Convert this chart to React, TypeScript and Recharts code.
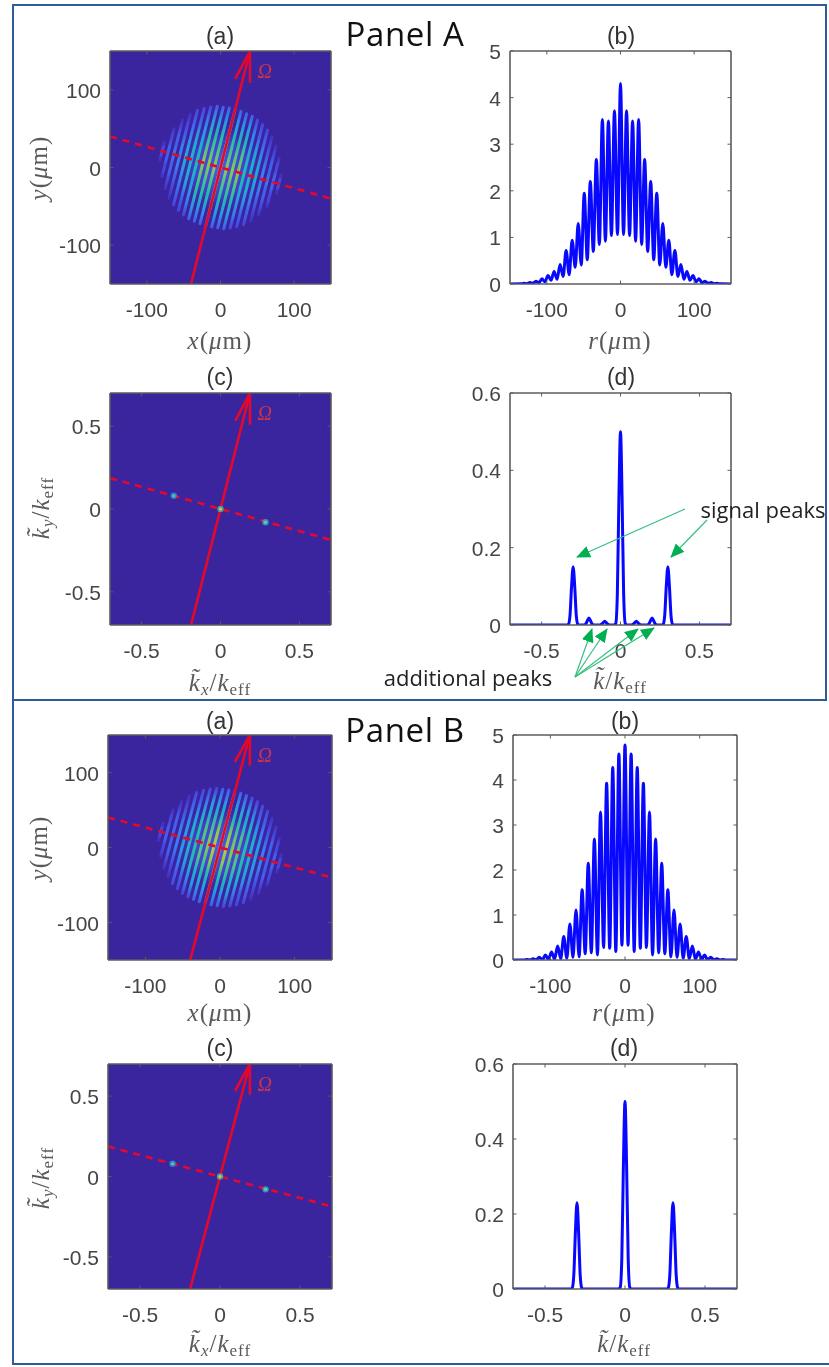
import * as React from "react";
import { ComposedChart, Line, ReferenceArea, ReferenceDot, Scatter, XAxis, YAxis } from "recharts";

// Real-space and k-space tick values
const rTicks = [-100, 0, 100];
const kTicks = [-0.5, 0, 0.5];
const intensityTicks = [0, 1, 2, 3, 4, 5];
const spectrumTicks = [0, 0.2, 0.4, 0.6];

// Cuts through the real-space pattern, fringe tops and the troughs between them
const rGrid = [
  -150, -135.3, -131.2, -127.1, -123, -118.9, -114.8, -110.7, -106.6, -102.5, -98.4, -94.3, -90.2, -86.1, -82, -77.9, -73.8,
  -69.7, -65.6, -61.5, -57.4, -53.3, -49.2, -45.1, -41, -36.9, -32.8, -28.7, -24.6, -20.5, -16.4, -12.3, -8.2, -4.1, 0, 4.1, 8.2,
  12.3, 16.4, 20.5, 24.6, 28.7, 32.8, 36.9, 41, 45.1, 49.2, 53.3, 57.4, 61.5, 65.6, 69.7, 73.8, 77.9, 82, 86.1, 90.2, 94.3, 98.4,
  102.5, 106.6, 110.7, 114.8, 118.9, 123, 127.1, 131.2, 135.3, 150,
];
const profileA = [
  0, 0.003, 0.015, 0.008, 0.03, 0.015, 0.06, 0.03, 0.11, 0.05, 0.18, 0.08, 0.27, 0.1, 0.42, 0.16, 0.72, 0.2, 0.94, 0.36, 1.3, 0.41,
  1.95, 0.52, 2.2, 0.7, 2.67, 0.85, 3.53, 0.92, 3.5, 1.04, 3.72, 1.06, 4.3, 1.06, 3.72, 1.04, 3.5, 0.92, 3.53, 0.85, 2.67, 0.7, 2.2,
  0.52, 1.95, 0.41, 1.3, 0.36, 0.94, 0.2, 0.72, 0.16, 0.42, 0.1, 0.27, 0.08, 0.18, 0.05, 0.11, 0.03, 0.06, 0.015, 0.03, 0.008, 0.015,
  0.003, 0,
];
const profileB = [
  0, 0.001, 0.01, 0.002, 0.03, 0.004, 0.06, 0.008, 0.11, 0.012, 0.18, 0.02, 0.31, 0.03, 0.52, 0.04, 0.8, 0.06, 1.11, 0.07, 1.56, 0.14,
  2.15, 0.16, 2.69, 0.11, 3.29, 0.28, 3.93, 0.26, 4.28, 0.19, 4.58, 0.33, 4.78, 0.33, 4.58, 0.19, 4.28, 0.26, 3.93, 0.28, 3.29, 0.11,
  2.69, 0.16, 2.15, 0.14, 1.56, 0.07, 1.11, 0.06, 0.8, 0.04, 0.52, 0.03, 0.31, 0.02, 0.18, 0.012, 0.11, 0.008, 0.06, 0.004, 0.03, 0.002,
  0.01, 0.001, 0,
];

// Spectra
const kGridA = [
  -0.7, -0.35, -0.335, -0.33, -0.32, -0.31, -0.3, -0.29, -0.28, -0.27, -0.265, -0.23, -0.22, -0.21, -0.2, -0.19, -0.18, -0.17, -0.13,
  -0.12, -0.11, -0.1, -0.09, -0.08, -0.07, -0.04, -0.03, -0.02, -0.01, 0, 0.01, 0.02, 0.03, 0.04, 0.07, 0.08, 0.09, 0.1, 0.11, 0.12,
  0.13, 0.17, 0.18, 0.19, 0.2, 0.21, 0.22, 0.23, 0.265, 0.27, 0.28, 0.29, 0.3, 0.31, 0.32, 0.33, 0.335, 0.35, 0.7,
];
const spectrumA = [
  0, 0, 0, 0.0012, 0.024, 0.1, 0.15, 0.1, 0.024, 0.0012, 0, 0, 0.003, 0.011, 0.018, 0.011, 0.003, 0, 0, 0.002, 0.006, 0.01, 0.006, 0.002,
  0, 0, 0.004, 0.08, 0.33, 0.5, 0.33, 0.08, 0.004, 0, 0, 0.002, 0.006, 0.01, 0.006, 0.002, 0, 0, 0.003, 0.011, 0.018, 0.011, 0.003, 0, 0,
  0.0012, 0.024, 0.1, 0.15, 0.1, 0.024, 0.0012, 0, 0, 0,
];
const kGridB = [
  -0.7, -0.35, -0.335, -0.33, -0.32, -0.31, -0.3, -0.29, -0.28, -0.27, -0.265, -0.04, -0.03, -0.02, -0.01, 0, 0.01, 0.02, 0.03, 0.04,
  0.265, 0.27, 0.28, 0.29, 0.3, 0.31, 0.32, 0.33, 0.335, 0.35, 0.7,
];
const spectrumB = [
  0, 0, 0, 0.002, 0.037, 0.152, 0.23, 0.152, 0.037, 0.002, 0, 0, 0.004, 0.08, 0.33, 0.5, 0.33, 0.08, 0.004, 0, 0, 0.002, 0.037, 0.152, 0.23,
  0.152, 0.037, 0.002, 0, 0, 0,
];

// Fringes of the colour maps: distance from the centre, half length, top level (0..1)
const fringeOffsets = [-82, -73.8, -65.6, -57.4, -49.2, -41, -32.8, -24.6, -16.4, -8.2, 0, 8.2, 16.4, 24.6, 32.8, 41, 49.2, 57.4, 65.6, 73.8, 82];
const fringeHalf = [12, 32, 46, 56, 63, 68, 72, 75, 76, 77, 77, 77, 76, 75, 72, 68, 63, 56, 46, 32, 12];
const fringeLevelA = [0.22, 0.3, 0.36, 0.44, 0.56, 0.62, 0.68, 0.86, 0.86, 0.9, 1, 0.9, 0.86, 0.86, 0.68, 0.62, 0.56, 0.44, 0.36, 0.3, 0.22];
const fringeLevelB = [0.22, 0.28, 0.34, 0.42, 0.52, 0.62, 0.72, 0.82, 0.9, 0.96, 1, 0.96, 0.9, 0.82, 0.72, 0.62, 0.52, 0.42, 0.34, 0.28, 0.22];
const fringeFalloff = [0.3, 0.55, 0.78, 0.94, 1, 0.94, 0.78, 0.55, 0.3];

const colourLevels = ["#3b259e", "#4230bf", "#4746de", "#4360ee", "#3a7cf0", "#2b98e4", "#20aed0", "#22bcb0", "#50c484", "#90c850", "#c0c838"];

const spotsA = [
  { x: -0.296, y: 0.08, core: "#5ec8b0", halo: "#2f8fd0" },
  { x: 0, y: 0, core: "#f2c230", halo: "#2fb8b0" },
  { x: 0.285, y: -0.08, core: "#6fd0a0", halo: "#2ea8c8" },
];

const BG = "#3b259e";
const RED = "#e4082c";
const AXIS = "#5c5c5c";
const SANS = "'Liberation Sans', Arial, sans-serif";
const SERIF = "'Liberation Serif', serif";
const NOTE = "'Open Sans', sans-serif";

type Box = { x: number; y: number; w: number; h: number };
const PAD = { top: 14, right: 14, bottom: 46, left: 62 };
// each of the four axes takes 1px of the plot's surroundings
const MARGIN = { top: PAD.top - 1, right: PAD.right - 1, bottom: PAD.bottom - 1, left: PAD.left - 1 };

function levelColour(v: number) {
  return colourLevels[Math.min(colourLevels.length - 1, Math.max(0, Math.round(v * 10)))];
}

// Matlab-like ticks: inward mark, label outside (the top and right axes have no label)
function makeTick(side: "bottom" | "left" | "top" | "right") {
  return function Tick(props: any) {
    const { x, y, payload } = props;
    const t = 3.5;
    if (side === "bottom")
      return (
        <g>
          <line x1={x} x2={x} y1={y} y2={y - t} stroke={AXIS} />
          <text x={x} y={y + 33} textAnchor="middle" fontSize={21} fontFamily={SANS} fill="#454545">{payload.value}</text>
        </g>
      );
    if (side === "left")
      return (
        <g>
          <line x1={x} x2={x + t} y1={y} y2={y} stroke={AXIS} />
          <text x={x - 9} y={y + 8} textAnchor="end" fontSize={21} fontFamily={SANS} fill="#454545">{payload.value}</text>
        </g>
      );
    if (side === "top") return <line x1={x} x2={x} y1={y} y2={y + t} stroke={AXIS} />;
    return <line x1={x} x2={x - t} y1={y} y2={y} stroke={AXIS} />;
  };
}
const tickBottom = makeTick("bottom");
const tickLeft = makeTick("left");
const tickTop = makeTick("top");
const tickRight = makeTick("right");

function axes(xDomain: number[], xTicks: number[], yDomain: number[], yTicks: number[]) {
  const line = { stroke: AXIS, strokeWidth: 1.6 };
  const common = { tickSize: 0, tickMargin: 0, tickLine: false, axisLine: line, allowDataOverflow: true, interval: 0 as const };
  return [
    <XAxis key="b" xAxisId="b" dataKey="x" type="number" domain={xDomain} ticks={xTicks} height={1} tick={tickBottom} {...common} />,
    <XAxis key="t" xAxisId="t" dataKey="x" orientation="top" type="number" domain={xDomain} ticks={xTicks} height={1} tick={tickTop} {...common} />,
    <YAxis key="l" yAxisId="l" type="number" domain={yDomain} ticks={yTicks} width={1} tick={tickLeft} {...common} />,
    <YAxis key="r" yAxisId="r" orientation="right" type="number" domain={yDomain} ticks={yTicks} width={1} tick={tickRight} {...common} />,
  ];
}

function chartStyle(box: Box): React.CSSProperties {
  return { position: "absolute", left: box.x - PAD.left, top: box.y - PAD.top };
}

/* ── Line panels (b) and (d) ─────────────────────────────────────────────── */
function CurvePanel({ box, xs, ys, xDomain, xTicks, yDomain, yTicks }: { box: Box; xs: number[]; ys: number[]; xDomain: number[]; xTicks: number[]; yDomain: number[]; yTicks: number[] }) {
  const data = xs.map((x, i) => ({ x, y: ys[i] }));
  return (
    <div style={chartStyle(box)}>
      <ComposedChart width={box.w + PAD.left + PAD.right} height={box.h + PAD.top + PAD.bottom} data={data} margin={MARGIN}>
        {axes(xDomain, xTicks, yDomain, yTicks)}
        <Line xAxisId="b" yAxisId="l" type="monotone" dataKey="y" stroke="#0808ff" strokeWidth={3} dot={false} activeDot={false} isAnimationActive={false} />
      </ComposedChart>
    </div>
  );
}

/* ── Colour map panels (a) and (c) ───────────────────────────────────────── */
function MapPanel({ id, box, extent, xTicks, fringeLevels, spots }: { id: string; box: Box; extent: number; xTicks: number[]; fringeLevels?: number[]; spots?: typeof spotsA }) {
  const u = extent / 150; // the overlay lines are the same in both scales
  const seg = (a: number[], b: number[]) => [{ x: a[0] * u, y: a[1] * u }, { x: b[0] * u, y: b[1] * u }];
  const series = (key: string, data: any[], stroke: string, width: number, extra: any = {}) => (
    <Line key={key} xAxisId="b" yAxisId="l" data={data} dataKey="y" type="linear" stroke={stroke} strokeWidth={width} dot={false} activeDot={false} isAnimationActive={false} {...extra} />
  );
  return (
    <div style={chartStyle(box)}>
      <ComposedChart width={box.w + PAD.left + PAD.right} height={box.h + PAD.top + PAD.bottom} margin={MARGIN}>
        <defs>
          <filter id={`${id}-soft`} x="-200%" y="-20%" width="500%" height="140%">
            <feGaussianBlur stdDeviation="0.5" />
          </filter>
          <radialGradient id={`${id}-glow`}>
            <stop offset="0%" stopColor="#4360ee" stopOpacity={1} />
            <stop offset="60%" stopColor="#4650dc" stopOpacity={0.6} />
            <stop offset="100%" stopColor={BG} stopOpacity={0} />
          </radialGradient>
          {fringeLevels?.map((lv, i) => (
            <linearGradient key={i} id={`${id}-f${i}`} x1="0" y1="1" x2="0" y2="0">
              {fringeFalloff.map((f, j) => (
                <stop key={j} offset={`${(j / (fringeFalloff.length - 1)) * 100}%`} stopColor={levelColour(lv * f)} />
              ))}
            </linearGradient>
          ))}
        </defs>
        {axes([-extent, extent], xTicks, [-extent, extent], extent === 150 ? rTicks : kTicks)}
        <ReferenceArea xAxisId="b" yAxisId="l" x1={-extent} x2={extent} y1={-extent} y2={extent} fill={BG} fillOpacity={1} stroke="none" />
        {fringeLevels && <ReferenceArea xAxisId="b" yAxisId="l" x1={-60} x2={60} y1={-60} y2={60} fill={`url(#${id}-glow)`} fillOpacity={1} stroke="none" />}
        {fringeLevels &&
          fringeOffsets.map((o, i) => {
            const cx = o * 0.966;
            const cy = -o * 0.258;
            const h = fringeHalf[i];
            return series(
              `f${i}`,
              [{ x: cx - 0.258 * h, y: cy - 0.966 * h }, { x: cx + 0.258 * h, y: cy + 0.966 * h }],
              `url(#${id}-f${i})`,
              3,
              { filter: `url(#${id}-soft)`, strokeLinecap: "round" },
            );
          })}
        {series("dash", seg([-150, 40], [150, -40]), RED, 2.6, { strokeDasharray: "7 6" })}
        {spots && (
          <Scatter
            xAxisId="b"
            yAxisId="l"
            data={spots}
            dataKey="y"
            isAnimationActive={false}
            shape={(p: any) => (
              <g>
                <circle cx={p.cx} cy={p.cy} r={3.2} fill={p.payload.halo} opacity={0.85} />
                <circle cx={p.cx} cy={p.cy} r={1.5} fill={p.payload.core} />
              </g>
            )}
          />
        )}
        {series("omega", seg([-40, -150], [40, 150]), RED, 2.6)}
        {series("barbL", seg([20, 114], [40, 150]), RED, 2.6)}
        {series("barbR", seg([40, 109], [40, 150]), RED, 2.6)}
        <ReferenceDot
          xAxisId="b"
          yAxisId="l"
          x={60 * u}
          y={124 * u}
          r={0}
          stroke="none"
          fill="none"
          label={{ value: "Ω", position: "center", fill: "#c8344e", fontSize: 20, fontStyle: "italic", fontFamily: SERIF }}
        />
      </ComposedChart>
    </div>
  );
}

/* ── Text outside the axes ───────────────────────────────────────────────── */
function Note({ x, y, size, family, color, rotate, spacing, children }: { x: number; y: number; size: number; family: string; color: string; rotate?: boolean; spacing?: number; children: React.ReactNode }) {
  return (
    <div
      style={{
        position: "absolute",
        left: x,
        top: y,
        transform: `translate(-50%,-50%)${rotate ? " rotate(-90deg)" : ""}`,
        fontSize: size,
        fontFamily: family,
        color,
        whiteSpace: "nowrap",
        lineHeight: 1,
        letterSpacing: spacing,
      }}
    >
      {children}
    </div>
  );
}

const subStyle: React.CSSProperties = { fontSize: "0.68em", verticalAlign: "-0.25em", lineHeight: 0 };
const rLabel = (v: string) => (<span><i>{v}</i>(<i>μ</i>m)</span>);
const kLabel = (s?: string) => (<span><i>k̃</i>{s && <i style={subStyle}>{s}</i>}/<i>k</i><span style={subStyle}>eff</span></span>);

const title = (x: number, y: number, s: string) => (
  <Note key={s + y} x={x} y={y} size={23} family={SANS} color="#333">{s}</Note>
);
const math = (x: number, y: number, node: React.ReactNode, rotate = false) => (
  <Note x={x} y={y} size={25} spacing={1} family={SERIF} color="#5a5a5a" rotate={rotate}>{node}</Note>
);

// Annotation arrows of panel A(d), page pixels [from x, from y, to x, to y]
const signalArrows = [
  [685, 509, 577, 557],
  [707, 520, 671, 557],
];
const extraArrows = [
  [575, 677, 592, 629],
  [575, 677, 607, 629],
  [575, 677, 638, 629],
  [575, 677, 654, 628],
];

const boxes = {
  aa: { x: 110, y: 51, w: 221, h: 233 },
  ab: { x: 510, y: 51, w: 221, h: 233 },
  ac: { x: 110, y: 393, w: 221, h: 232 },
  ad: { x: 510, y: 393, w: 221, h: 232 },
  ba: { x: 108, y: 735, w: 224, h: 225 },
  bb: { x: 513, y: 735, w: 224, h: 225 },
  bc: { x: 108, y: 1064, w: 224, h: 225 },
  bd: { x: 513, y: 1064, w: 224, h: 225 },
};

export default function App() {
  return (
    <div style={{ position: "absolute", left: 0, top: 0, width: 829, height: 1367, background: "#fff", overflow: "hidden", filter: "blur(0.45px)" }}>
      {/* frame */}
      <div style={{ position: "absolute", left: 12, top: 4, width: 815, height: 697, boxSizing: "border-box", border: "2px solid #2f5a9c" }} />
      <div style={{ position: "absolute", left: 12, top: 700, width: 817, height: 665, boxSizing: "border-box", borderLeft: "2px solid #2f5a9c", borderBottom: "2px solid #2f5a9c" }} />

      <MapPanel id="aa" box={boxes.aa} extent={150} xTicks={rTicks} fringeLevels={fringeLevelA} />
      <CurvePanel box={boxes.ab} xs={rGrid} ys={profileA} xDomain={[-150, 150]} xTicks={rTicks} yDomain={[0, 5]} yTicks={intensityTicks} />
      <MapPanel id="ac" box={boxes.ac} extent={0.7} xTicks={kTicks} spots={spotsA} />
      <CurvePanel box={boxes.ad} xs={kGridA} ys={spectrumA} xDomain={[-0.7, 0.7]} xTicks={kTicks} yDomain={[0, 0.6]} yTicks={spectrumTicks} />
      <MapPanel id="ba" box={boxes.ba} extent={150} xTicks={rTicks} fringeLevels={fringeLevelB} />
      <CurvePanel box={boxes.bb} xs={rGrid} ys={profileB} xDomain={[-150, 150]} xTicks={rTicks} yDomain={[0, 5]} yTicks={intensityTicks} />
      <MapPanel id="bc" box={boxes.bc} extent={0.7} xTicks={kTicks} spots={spotsA} />
      <CurvePanel box={boxes.bd} xs={kGridB} ys={spectrumB} xDomain={[-0.7, 0.7]} xTicks={kTicks} yDomain={[0, 0.6]} yTicks={spectrumTicks} />

      {title(220, 36, "(a)")}
      {title(621, 36, "(b)")}
      {title(220, 377, "(c)")}
      {title(621, 377, "(d)")}
      {title(220, 721, "(a)")}
      {title(625, 721, "(b)")}
      {title(220, 1048, "(c)")}
      {title(624, 1048, "(d)")}

      {math(220, 340, rLabel("x"))}
      {math(38, 168, rLabel("y"), true)}
      {math(620, 340, rLabel("r"))}
      {math(220, 682, kLabel("x"))}
      {math(40, 508, kLabel("y"), true)}
      {math(620, 680, kLabel())}
      {math(220, 1012, rLabel("x"))}
      {math(38, 848, rLabel("y"), true)}
      {math(624, 1012, rLabel("r"))}
      {math(220, 1343, kLabel("x"))}
      {math(40, 1178, kLabel("y"), true)}
      {math(624, 1343, kLabel())}

      <Note x={405} y={33} size={33} family={NOTE} color="#111" spacing={0.6}>Panel A</Note>
      <Note x={405} y={729} size={33} family={NOTE} color="#111" spacing={0.6}>Panel B</Note>
      <Note x={763} y={509} size={22} family={NOTE} color="#222">signal peaks</Note>
      <Note x={468} y={677} size={22} family={NOTE} color="#222">additional peaks</Note>

      <svg width={829} height={1367} style={{ position: "absolute", left: 0, top: 0, pointerEvents: "none" }}>
        <defs>
          <marker id="green-head" markerUnits="userSpaceOnUse" markerWidth="14" markerHeight="12" refX="13" refY="6" orient="auto">
            <path d="M0,0 L14,6 L0,12 Z" fill="#00b050" />
          </marker>
        </defs>
        {[...signalArrows, ...extraArrows].map((a, i) => (
          <line key={i} x1={a[0]} y1={a[1]} x2={a[2]} y2={a[3]} stroke="#35c080" strokeWidth={1.2} markerEnd="url(#green-head)" />
        ))}
      </svg>
    </div>
  );
}
